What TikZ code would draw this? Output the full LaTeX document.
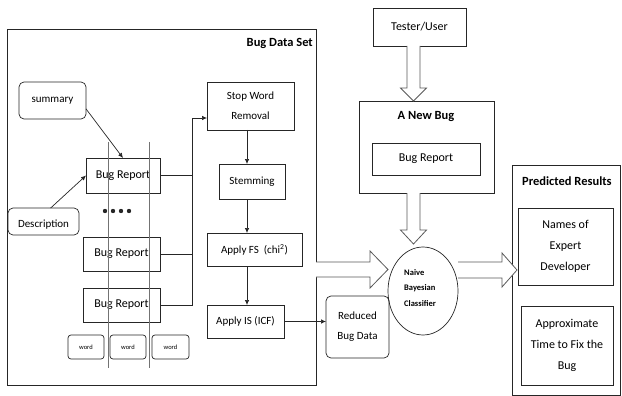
\documentclass[tikz,border=0pt]{standalone}
\usepackage{fontspec}
\setmainfont{Carlito}
\usetikzlibrary{shapes.geometric,arrows.meta,calc}
\tikzset{
  ln/.style={draw=black!85, line width=0.7pt},
  box/.style={ln, inner sep=0pt, outer sep=0pt, align=center},
  rbox/.style={box, rounded corners=5pt},
  sz/.style 2 args={minimum width=#1, minimum height=#2},
  fA/.style={font=\fontsize{11}{20}\selectfont},
  fB/.style={font=\fontsize{12}{21}\selectfont},
  fC/.style={font=\fontsize{6.5}{7}\selectfont},
  bold/.style={font=\bfseries\fontsize{12.5}{13}\selectfont},
  arr/.style={ln, -{Latex[length=5pt,width=4.5pt]}},
  vline/.style={draw=black!55, line width=0.8pt},
  hollow/.style={draw=black!65, line width=0.8pt, fill=white, line join=miter},
}
\begin{document}
\begin{tikzpicture}[x=1pt,y=-1pt]
\useasboundingbox (0,0) rectangle (622,396);
% Bug data set frame
\node[box, sz={309pt}{356pt}] (dataset) at (161.5,207) {};
\node[bold, anchor=north east, inner sep=0pt] (dstitle) at (313,38) {Bug Data Set};
% left part
\node[rbox, sz={67pt}{37pt}, fA] (summary) at (52.5,100.5) {summary};
\node[rbox, sz={71pt}{27pt}, fA, text depth=0pt] (desc) at (43.5,221.5) {\raisebox{-5pt}{Description}};
\node[box, sz={74pt}{35pt}, fB] (br1) at (123,175.5) {Bug Report};
\node[box, sz={77pt}{34pt}, fB] (br2) at (121.5,254) {Bug Report};
\node[box, sz={77pt}{34pt}, fB] (br3) at (121.5,305) {Bug Report};
\node[rbox, rounded corners=3pt, sz={36pt}{24pt}, fC] (w1) at (86,347) {word};
\node[rbox, rounded corners=3pt, sz={36pt}{24pt}, fC] (w2) at (128,347) {word};
\node[rbox, rounded corners=3pt, sz={37pt}{24pt}, fC] (w3) at (170.5,347) {word};
\foreach \x in {105,113,121,129} \fill[black!85] (\x,211) circle (2.2pt);
\coordinate (v1t) at (108,142); \coordinate (v1b) at (108,368);
\coordinate (v2t) at (149,142); \coordinate (v2b) at (149,368);
\draw[vline] (v1t) -- (v1b);
\draw[vline] (v2t) -- (v2b);
\draw[arr] (summary.-14) -- (br1.north);
\draw[arr] (desc.62) -- (br1.west);
% processing column
\node[box, sz={87pt}{48pt}, fA] (stop) at (250.5,106) {Stop Word\\Removal};
\node[box, sz={66pt}{35pt}, fA] (stem) at (252,181.5) {Stemming};
\node[box, sz={95pt}{33pt}, fA] (fs) at (254.5,249.5) {Apply FS~ (chi\textsuperscript{2})};
\node[box, sz={77pt}{33pt}, fA] (is) at (245.5,321.5) {Apply IS (ICF)};
\coordinate (bus) at (192,118);
\coordinate (col) at (247,0);
\draw[ln] (br1.east) -- (br1.east -| bus);
\draw[ln] (br2.east) -- (br2.east -| bus);
\draw[ln] (br3.east) -- (br3.east -| bus) -- (bus);
\draw[arr] (bus) -- (bus -| stop.west);
\draw[arr] (stop.south -| col) -- (stem.north -| col);
\draw[arr] (stem.south -| col) -- (fs.north -| col);
\draw[arr] (fs.south -| col) -- (is.north -| col);
\node[rbox, sz={63pt}{62pt}, fA] (reduced) at (357.5,327) {Reduced\\Bug Data};
\draw[arr] (is.east) -- (is.east -| reduced.west);
% right part
\node[box, sz={93pt}{38pt}, fB] (tester) at (419.5,27) {Tester/User};
\node[box, sz={135pt}{92pt}] (newbug) at (426.5,147) {};
\node[bold] (nbtitle) at (426,117) {A New Bug};
\node[box, sz={108pt}{32pt}, fB] (nbr) at (426,159) {Bug Report};
\node[ellipse, ln, inner sep=0pt, sz={70pt}{88pt}] (cls) at (423,291) {};
\node[font=\bfseries\fontsize{8.5}{15.5}\selectfont, align=left, anchor=west, inner sep=0pt] (clstext) at (404,288) {Naive\\Bayesian\\Classifier};
\node[box, sz={108pt}{230pt}] (pred) at (566,280) {};
\node[bold, anchor=west, inner sep=0pt] (predtitle) at (522,181) {Predicted Results};
\node[box, sz={95pt}{77pt}, fB] (names) at (565.5,246.5) {Names of\\Expert\\Developer};
\node[box, sz={92pt}{79pt}, fB] (approx) at (567,345.5) {Approximate\\Time to Fix the\\Bug};
% hollow arrows
\coordinate (dcol) at (413.5,0);
\draw[hollow] let \p1=(tester.south -| dcol), \p2=(newbug.north -| dcol) in
  (\x1-6.5pt,\y1) -- (\x1-6.5pt,\y2+13pt) -- (\x1-13pt,\y2+13pt) -- (\x1,\y2)
  -- (\x1+13pt,\y2+13pt) -- (\x1+6.5pt,\y2+13pt) -- (\x1+6.5pt,\y1);
\coordinate (clstop) at (413.5,244);
\draw[hollow] let \p1=(newbug.south -| dcol), \p2=(clstop) in
  (\x1-6.5pt,\y1) -- (\x1-6.5pt,\y2+14pt) -- (\x1-13pt,\y2+14pt) -- (\x1,\y2)
  -- (\x1+13pt,\y2+14pt) -- (\x1+6.5pt,\y2+14pt) -- (\x1+6.5pt,\y1);
\coordinate (h1s) at (316,269.5);
\coordinate (h1e) at (388,269.5);
\draw[hollow] let \p1=(h1s), \p2=(h1e) in
  (\x1,\y1+7.5pt) -- (\x2-18pt,\y1+7.5pt) -- (\x2-18pt,\y1+18.5pt) -- (\x2,\y1)
  -- (\x2-18pt,\y1-18.5pt) -- (\x2-18pt,\y1-7.5pt) -- (\x1,\y1-7.5pt);
\coordinate (h2s) at (458,270);
\coordinate (h2e) at (517,270);
\draw[hollow] let \p1=(h2s), \p2=(h2e) in
  (\x1,\y1+8pt) -- (\x2-15pt,\y1+8pt) -- (\x2-15pt,\y1+17pt) -- (\x2,\y1)
  -- (\x2-15pt,\y1-17pt) -- (\x2-15pt,\y1-8pt) -- (\x1,\y1-8pt);
\end{tikzpicture}
\end{document}
